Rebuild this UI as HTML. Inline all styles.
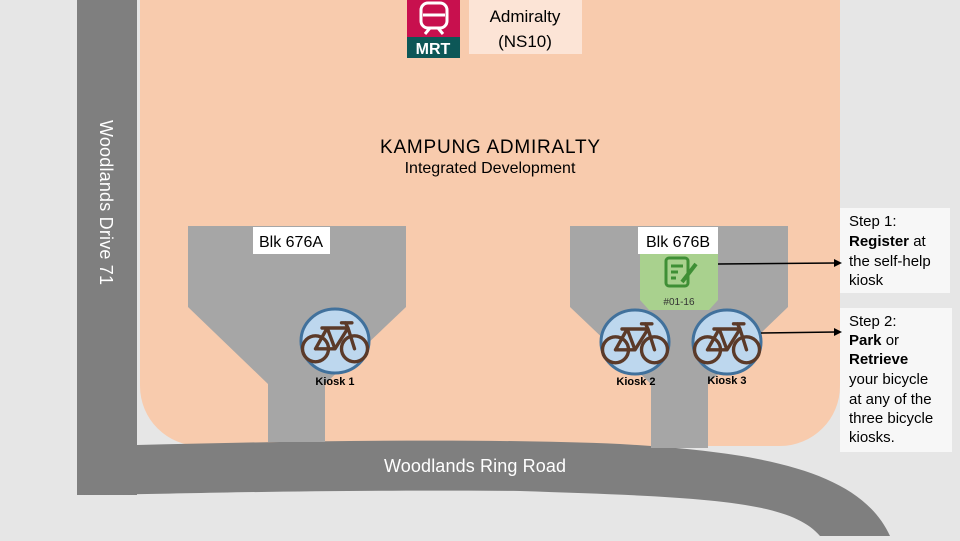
<!DOCTYPE html>
<html><head><meta charset="utf-8"><style>
body{margin:0;width:960px;height:536px;overflow:hidden;background:#e6e6e6;font-family:"Liberation Sans",sans-serif}
</style></head><body>
<svg width="960" height="536" viewBox="0 0 960 536" xmlns="http://www.w3.org/2000/svg" font-family="Liberation Sans, sans-serif">
<defs>
<g id="bike" fill="none" stroke="#5b3a29" stroke-width="2.6" stroke-linecap="round" stroke-linejoin="round" transform="scale(1.3)">
<circle cx="-15" cy="6" r="10"/><circle cx="15" cy="6" r="10"/>
<path d="M-15 6 L-6 -10 L10 -10 L15 6 M-6 -10 L0 6 L10 -10 M-15 6 L0 6 M-10 -10 L-2 -10 M10 -10 L8 -14 M5 -14 L13 -14"/>
</g>
</defs>
<rect x="140" y="0" width="700" height="446" rx="60" fill="#f8cbad"/>
<rect x="140" y="0" width="700" height="100" fill="#f8cbad"/>
<rect x="77" y="0" width="60" height="495" fill="#7f7f7f"/>
<path d="M77 445 L137 445 C300 441 480 438 620 444 C760 452 860 470 890 536 L820 536 C790 500 700 497 520 491 C300 489 150 495 77 495 Z" fill="#7f7f7f"/>
<path d="M188 226 H406 V307 L325 384 V442 H268 V384 L188 307 Z" fill="#a6a6a6"/>
<path d="M570 226 H788 V307 L708 384 V448 H651 V384 L570 307 Z" fill="#a6a6a6"/>
<rect x="253" y="227" width="77" height="27" fill="#fff"/>
<text x="291" y="247" font-size="16" text-anchor="middle">Blk 676A</text>
<rect x="638" y="227" width="80" height="27" fill="#fff"/>
<text x="678" y="247" font-size="16" text-anchor="middle">Blk 676B</text>
<path d="M640 254 H718 V300 L709 310 H649 L640 300 Z" fill="#a9d18e"/>
<g fill="none" stroke="#3f8f35" stroke-width="3"><rect x="666" y="258" width="22" height="28" rx="3"/><path d="M671 266 H683 M671 272 H678 M671 278 H676"/><path d="M682 282 L696 264" stroke-width="4"/></g>
<text x="679" y="305" font-size="10" text-anchor="middle" fill="#333">#01-16</text>
<g stroke="#41719c" stroke-width="3" fill="#bdd7ee">
<ellipse cx="335" cy="341" rx="34" ry="32"/><ellipse cx="635" cy="342" rx="34" ry="32"/><ellipse cx="727" cy="342" rx="34" ry="32"/></g>
<use href="#bike" x="335" y="341"/><use href="#bike" x="635" y="342"/><use href="#bike" x="727" y="342"/>
<g font-size="11" font-weight="bold" text-anchor="middle"><text x="335" y="385">Kiosk 1</text><text x="636" y="385">Kiosk 2</text><text x="727" y="384">Kiosk 3</text></g>
<rect x="407" y="0" width="53" height="37" fill="#c8104e"/><rect x="407" y="37" width="53" height="21" fill="#0d5757"/>
<g fill="none" stroke="#fff" stroke-width="3"><rect x="421" y="3" width="26" height="25" rx="7"/><path d="M423 15 H445 M425 34 L430 28 M443 34 L438 28"/></g>
<text x="433" y="54" font-size="16" font-weight="bold" fill="#fff" text-anchor="middle">MRT</text>
<rect x="469" y="0" width="113" height="54" fill="#fce4d6"/>
<text x="525" y="22" font-size="17" text-anchor="middle">Admiralty</text>
<text x="525" y="47" font-size="17" text-anchor="middle">(NS10)</text>
<text x="490" y="153" font-size="19" text-anchor="middle" textLength="220">KAMPUNG ADMIRALTY</text>
<text x="490" y="173" font-size="16" text-anchor="middle">Integrated Development</text>
<text transform="translate(100,120) rotate(90)" font-size="18" fill="#fff" textLength="165">Woodlands Drive 71</text>
<text x="475" y="472" font-size="18" fill="#fff" text-anchor="middle" textLength="182">Woodlands Ring Road</text>
<rect x="840" y="208" width="110" height="85" fill="#f7f7f7"/>
<rect x="840" y="308" width="112" height="144" fill="#f7f7f7"/>
<g font-size="15"><text x="849" y="226">Step 1:</text><text x="849" y="246"><tspan font-weight="bold">Register</tspan> at</text><text x="849" y="266">the self-help</text><text x="849" y="285">kiosk</text>
<text x="849" y="326">Step 2:</text><text x="849" y="345"><tspan font-weight="bold">Park</tspan> or</text><text x="849" y="364" font-weight="bold">Retrieve</text><text x="849" y="384">your bicycle</text><text x="849" y="404">at any of the</text><text x="849" y="423">three bicycle</text><text x="849" y="442">kiosks.</text></g>
<g stroke="#000" stroke-width="1.5"><line x1="718" y1="264" x2="836" y2="263"/><line x1="761" y1="333" x2="836" y2="332"/></g>
<path d="M842 263 L834 259 L834 267 Z M842 332 L834 328 L834 336 Z" fill="#000"/>
</svg>
</body></html>
